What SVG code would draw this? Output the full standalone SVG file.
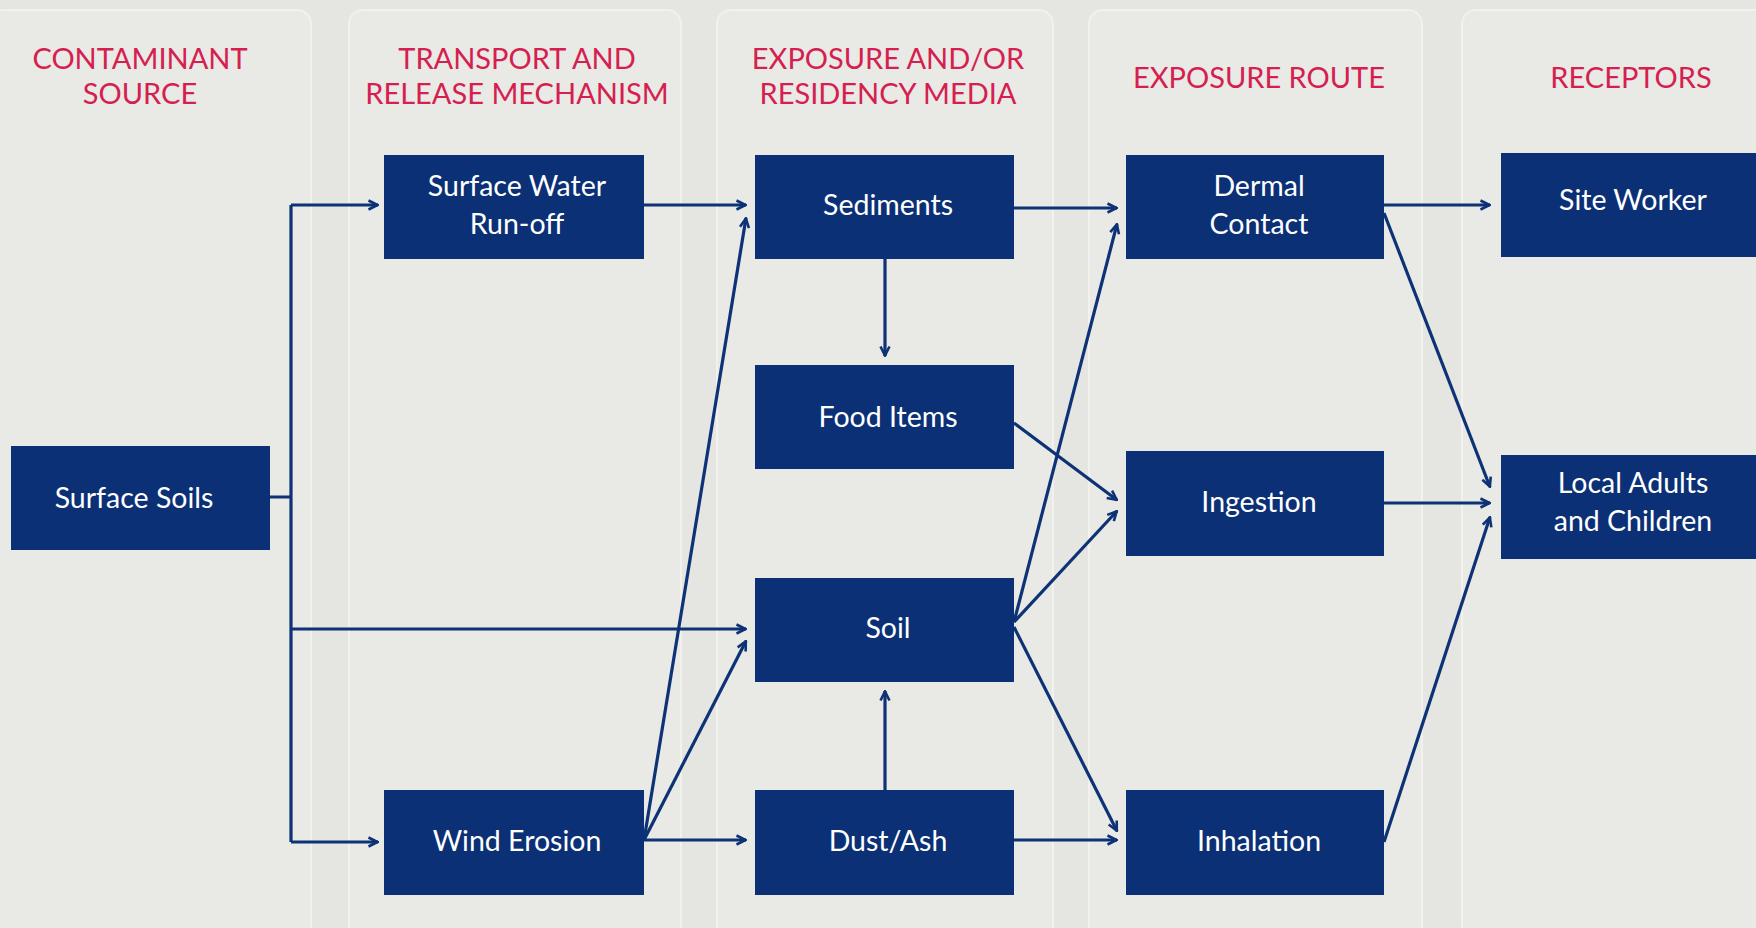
<svg xmlns="http://www.w3.org/2000/svg" width="1756" height="928" viewBox="0 0 1756 928">
<defs>
<marker id="ah" viewBox="0 0 12 12" refX="11" refY="6" markerWidth="12" markerHeight="12" markerUnits="userSpaceOnUse" orient="auto">
<path d="M1.5,1.5 L10.5,6 L1.5,10.5" fill="none" stroke="#0d3275" stroke-width="2.6"/>
</marker>
<style>
.hd{font-family:Lato,"Open Sans",sans-serif;font-size:29px;fill:#d5204f;text-anchor:middle}
.bx{fill:#0b3076}
.lb{font-family:Lato,"Open Sans",sans-serif;font-size:28.5px;fill:#ffffff;text-anchor:middle}
.cn{fill:none;stroke:#0d3275;stroke-width:3.2}
.ar{marker-end:url(#ah)}
.pn{fill:#e9e9e6;stroke:#f1f1ee;stroke-width:2}
</style>
</defs>
<rect x="0" y="0" width="1756" height="928" fill="#e5e5e2"/>
<g id="panels">
<rect class="pn" x="-10" y="10" width="321" height="930" rx="14"/>
<rect class="pn" x="349" y="10" width="332" height="930" rx="14"/>
<rect class="pn" x="717" y="10" width="336" height="930" rx="14"/>
<rect class="pn" x="1089" y="10" width="333" height="930" rx="14"/>
<rect class="pn" x="1462" y="10" width="310" height="930" rx="14"/>
</g>
<g id="headers">
<text class="hd" x="140" y="69">CONTAMINANT</text>
<text class="hd" x="140" y="104">SOURCE</text>
<text class="hd" x="517" y="69">TRANSPORT AND</text>
<text class="hd" x="517" y="104">RELEASE MECHANISM</text>
<text class="hd" x="888" y="69">EXPOSURE AND/OR</text>
<text class="hd" x="888" y="104">RESIDENCY MEDIA</text>
<text class="hd" x="1259" y="88">EXPOSURE ROUTE</text>
<text class="hd" x="1631" y="88">RECEPTORS</text>
</g>
<g id="connectors">
<path class="cn" d="M270,497 H291 M291,205 V842"/>
<path class="cn ar" d="M291,205 H378"/>
<path class="cn ar" d="M291,629 H746"/>
<path class="cn ar" d="M291,842 H378"/>
<path class="cn ar" d="M644,205 H746"/>
<path class="cn ar" d="M644,840 L746,218"/>
<path class="cn ar" d="M644,840 L746,641"/>
<path class="cn ar" d="M644,840 H746"/>
<path class="cn ar" d="M885,259 V356"/>
<path class="cn ar" d="M885,790 V691"/>
<path class="cn ar" d="M1014,208 H1117"/>
<path class="cn ar" d="M1014,423 L1117,500"/>
<path class="cn ar" d="M1014,622 L1117,224"/>
<path class="cn ar" d="M1014,622 L1117,511"/>
<path class="cn ar" d="M1014,627 L1117,831"/>
<path class="cn ar" d="M1014,840 H1117"/>
<path class="cn ar" d="M1384,205 H1490"/>
<path class="cn ar" d="M1384,213 L1490,487"/>
<path class="cn ar" d="M1384,503 H1490"/>
<path class="cn ar" d="M1384,842 L1490,517"/>
</g>
<g id="surface-soils"><rect class="bx" x="11" y="446" width="259" height="104"/><text class="lb" x="134" y="508">Surface Soils</text></g>
<g id="surface-water"><rect class="bx" x="384" y="155" width="260" height="104"/><text class="lb" x="517" y="196">Surface Water</text><text class="lb" x="517" y="234">Run-off</text></g>
<g id="wind-erosion"><rect class="bx" x="384" y="790" width="260" height="105"/><text class="lb" x="517" y="851">Wind Erosion</text></g>
<g id="sediments"><rect class="bx" x="755" y="155" width="259" height="104"/><text class="lb" x="888" y="215">Sediments</text></g>
<g id="food-items"><rect class="bx" x="755" y="365" width="259" height="104"/><text class="lb" x="888" y="427">Food Items</text></g>
<g id="soil"><rect class="bx" x="755" y="578" width="259" height="104"/><text class="lb" x="888" y="638">Soil</text></g>
<g id="dust-ash"><rect class="bx" x="755" y="790" width="259" height="105"/><text class="lb" x="888" y="851">Dust/Ash</text></g>
<g id="dermal-contact"><rect class="bx" x="1126" y="155" width="258" height="104"/><text class="lb" x="1259" y="196">Dermal</text><text class="lb" x="1259" y="234">Contact</text></g>
<g id="ingestion"><rect class="bx" x="1126" y="451" width="258" height="105"/><text class="lb" x="1259" y="512">Ingestion</text></g>
<g id="inhalation"><rect class="bx" x="1126" y="790" width="258" height="105"/><text class="lb" x="1259" y="851">Inhalation</text></g>
<g id="site-worker"><rect class="bx" x="1501" y="153" width="260" height="104"/><text class="lb" x="1633" y="210">Site Worker</text></g>
<g id="local-adults"><rect class="bx" x="1501" y="455" width="260" height="104"/><text class="lb" x="1633" y="493">Local Adults</text><text class="lb" x="1633" y="531">and Children</text></g>
</svg>
